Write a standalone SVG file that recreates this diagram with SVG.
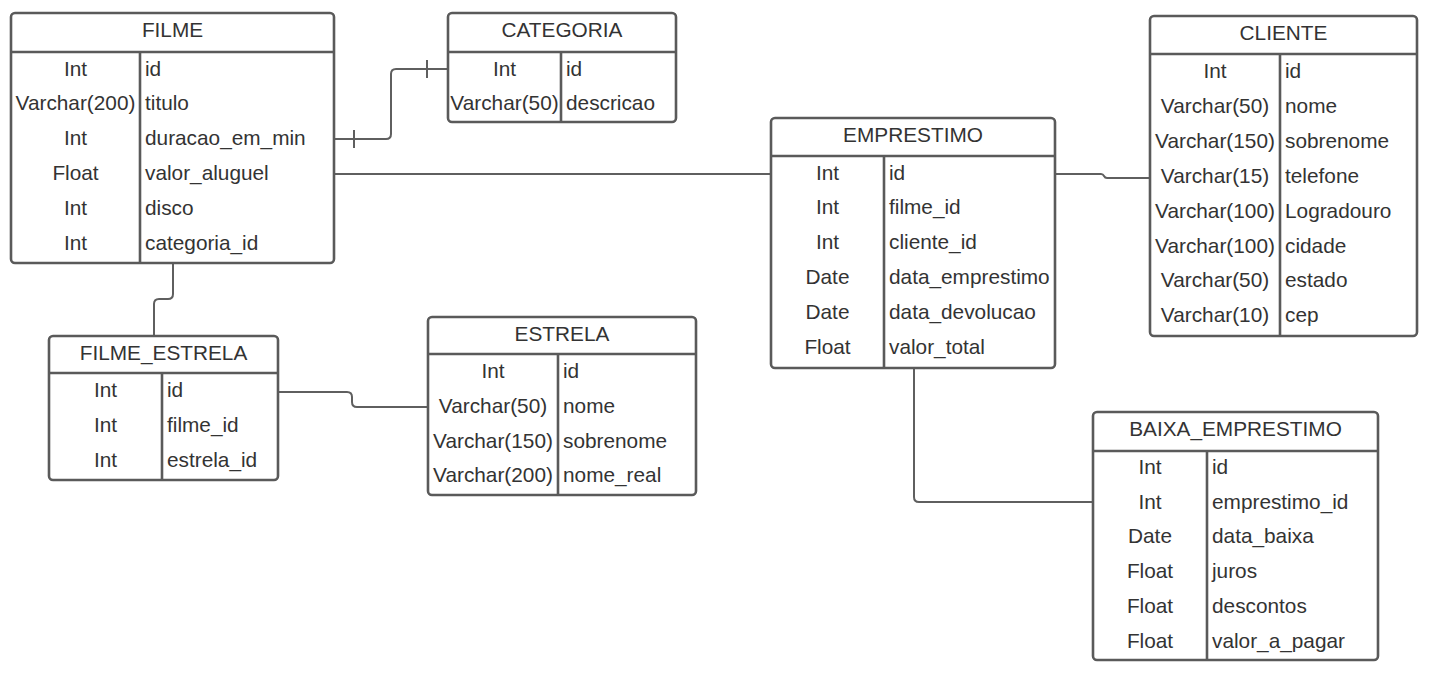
<svg xmlns="http://www.w3.org/2000/svg" width="1449" height="675" viewBox="0 0 1449 675">
<style>
.box{fill:#ffffff;stroke:#5a5a5a;stroke-width:2.6}
.ln{stroke:#5a5a5a;stroke-width:2.6;fill:none}
.cn{stroke:#5f5f5f;stroke-width:2;fill:none}
text{font-family:"Liberation Sans",Arial,sans-serif;font-size:20.8px;fill:#333333}
.c{text-anchor:middle}
</style>
<rect width="1449" height="675" fill="#ffffff"/>
<g id="connectors">
<path class="cn" d="M334,139 H386 Q391,139 391,134 V74 Q391,69 396,69 H448"/>
<path class="cn" d="M354,130 V148 M427,60 V78"/>
<path class="cn" d="M334,174 H771"/>
<path class="cn" d="M1055,174 H1101 Q1103,174 1104,176 Q1105,178 1107,178 H1150"/>
<path class="cn" d="M173,263 V294 Q173,299 168,299 H159 Q154,299 154,304 V336"/>
<path class="cn" d="M278,392 H347 Q352,392 352,397 V402 Q352,407 357,407 H428"/>
<path class="cn" d="M914,368 V497 Q914,502 919,502 H1093"/>
</g>
<g id="FILME">
<rect class="box" x="11" y="13" width="323" height="250" rx="4"/>
<path class="ln" d="M11,52 H334 M140,52 V263"/>
<text class="c" x="172.5" y="37">FILME</text>
<text class="c" x="75.5" y="75.5">Int</text><text x="145" y="75.5">id</text>
<text class="c" x="75.5" y="110.3">Varchar(200)</text><text x="145" y="110.3">titulo</text>
<text class="c" x="75.5" y="145.1">Int</text><text x="145" y="145.1">duracao_em_min</text>
<text class="c" x="75.5" y="179.9">Float</text><text x="145" y="179.9">valor_aluguel</text>
<text class="c" x="75.5" y="214.7">Int</text><text x="145" y="214.7">disco</text>
<text class="c" x="75.5" y="249.5">Int</text><text x="145" y="249.5">categoria_id</text>
</g>
<g id="CATEGORIA">
<rect class="box" x="448" y="13" width="228" height="109" rx="4"/>
<path class="ln" d="M448,52 H676 M561,52 V122"/>
<text class="c" x="562" y="37">CATEGORIA</text>
<text class="c" x="504.5" y="75.5">Int</text><text x="566" y="75.5">id</text>
<text class="c" x="504.5" y="110.3">Varchar(50)</text><text x="566" y="110.3">descricao</text>
</g>
<g id="EMPRESTIMO">
<rect class="box" x="771" y="118" width="284" height="250" rx="4"/>
<path class="ln" d="M771,156 H1055 M884,156 V368"/>
<text class="c" x="913" y="142">EMPRESTIMO</text>
<text class="c" x="827.5" y="179.5">Int</text><text x="889" y="179.5">id</text>
<text class="c" x="827.5" y="214.3">Int</text><text x="889" y="214.3">filme_id</text>
<text class="c" x="827.5" y="249.1">Int</text><text x="889" y="249.1">cliente_id</text>
<text class="c" x="827.5" y="283.9">Date</text><text x="889" y="283.9">data_emprestimo</text>
<text class="c" x="827.5" y="318.7">Date</text><text x="889" y="318.7">data_devolucao</text>
<text class="c" x="827.5" y="353.5">Float</text><text x="889" y="353.5">valor_total</text>
</g>
<g id="CLIENTE">
<rect class="box" x="1150" y="16" width="267" height="320" rx="4"/>
<path class="ln" d="M1150,54 H1417 M1280,54 V336"/>
<text class="c" x="1283.5" y="40">CLIENTE</text>
<text class="c" x="1215" y="78">Int</text><text x="1285" y="78">id</text>
<text class="c" x="1215" y="112.9">Varchar(50)</text><text x="1285" y="112.9">nome</text>
<text class="c" x="1215" y="147.8">Varchar(150)</text><text x="1285" y="147.8">sobrenome</text>
<text class="c" x="1215" y="182.7">Varchar(15)</text><text x="1285" y="182.7">telefone</text>
<text class="c" x="1215" y="217.6">Varchar(100)</text><text x="1285" y="217.6">Logradouro</text>
<text class="c" x="1215" y="252.5">Varchar(100)</text><text x="1285" y="252.5">cidade</text>
<text class="c" x="1215" y="287.4">Varchar(50)</text><text x="1285" y="287.4">estado</text>
<text class="c" x="1215" y="322.3">Varchar(10)</text><text x="1285" y="322.3">cep</text>
</g>
<g id="FILME_ESTRELA">
<rect class="box" x="49" y="336" width="229" height="144" rx="4"/>
<path class="ln" d="M49,373 H278 M162,373 V480"/>
<text class="c" x="163.5" y="359.5">FILME_ESTRELA</text>
<text class="c" x="105.5" y="397">Int</text><text x="167" y="397">id</text>
<text class="c" x="105.5" y="431.8">Int</text><text x="167" y="431.8">filme_id</text>
<text class="c" x="105.5" y="466.6">Int</text><text x="167" y="466.6">estrela_id</text>
</g>
<g id="ESTRELA">
<rect class="box" x="428" y="317" width="268" height="178" rx="4"/>
<path class="ln" d="M428,354 H696 M558,354 V495"/>
<text class="c" x="562" y="341">ESTRELA</text>
<text class="c" x="493" y="378">Int</text><text x="563" y="378">id</text>
<text class="c" x="493" y="412.8">Varchar(50)</text><text x="563" y="412.8">nome</text>
<text class="c" x="493" y="447.6">Varchar(150)</text><text x="563" y="447.6">sobrenome</text>
<text class="c" x="493" y="482.4">Varchar(200)</text><text x="563" y="482.4">nome_real</text>
</g>
<g id="BAIXA_EMPRESTIMO">
<rect class="box" x="1093" y="412" width="285" height="248" rx="4"/>
<path class="ln" d="M1093,451 H1378 M1207,451 V660"/>
<text class="c" x="1235.5" y="436">BAIXA_EMPRESTIMO</text>
<text class="c" x="1150" y="474">Int</text><text x="1212" y="474">id</text>
<text class="c" x="1150" y="508.7">Int</text><text x="1212" y="508.7">emprestimo_id</text>
<text class="c" x="1150" y="543.4">Date</text><text x="1212" y="543.4">data_baixa</text>
<text class="c" x="1150" y="578.1">Float</text><text x="1212" y="578.1">juros</text>
<text class="c" x="1150" y="612.8">Float</text><text x="1212" y="612.8">descontos</text>
<text class="c" x="1150" y="647.5">Float</text><text x="1212" y="647.5">valor_a_pagar</text>
</g>
</svg>
